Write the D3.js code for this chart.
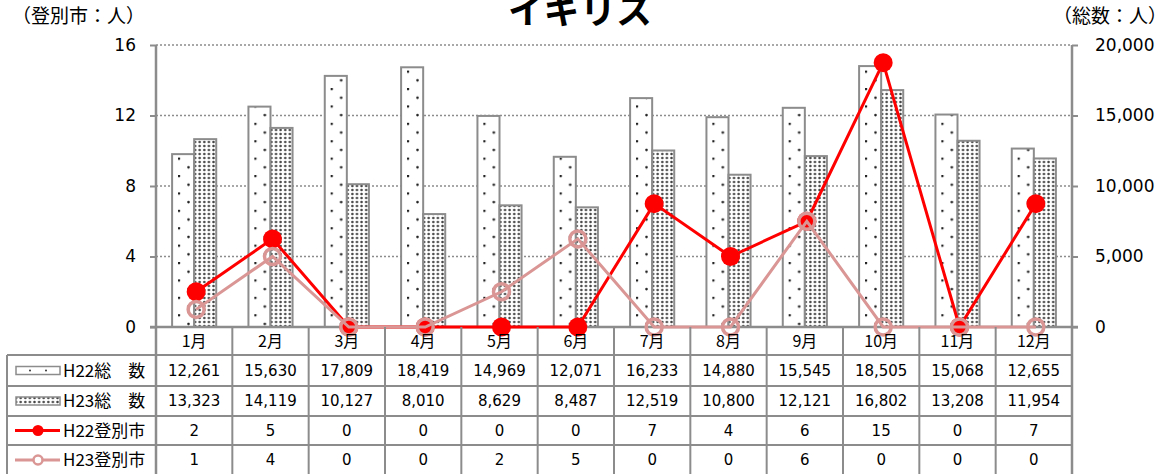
<!DOCTYPE html>
<html><head><meta charset="utf-8">
<script src="https://cdn.jsdelivr.net/npm/d3@7"></script>
<style>
body{margin:0;background:#fff;}
svg{display:block;}
text{font-family:"DejaVu Sans","Noto Sans CJK JP",sans-serif;fill:#000;}
.jp{font-family:"Noto Sans CJK JP","DejaVu Sans",sans-serif;}
</style></head>
<body><svg id="c" width="1172" height="474"></svg>
<script>
const months = ["1月","2月","3月","4月","5月","6月","7月","8月","9月","10月","11月","12月"];
const h22Total = [12261,15630,17809,18419,14969,12071,16233,14880,15545,18505,15068,12655];
const h23Total = [13323,14119,10127,8010,8629,8487,12519,10800,12121,16802,13208,11954];
const h22City = [2,5,0,0,0,0,7,4,6,15,0,7];
const h23City = [1,4,0,0,2,5,0,0,6,0,0,0];
const leftTicks = [0,4,8,12,16];
const rightTicks = [0,5000,10000,15000,20000];
const seriesNames = ["H22総　数","H23総　数","H22登別市","H23登別市"];
const title = "イギリス";

const svg = d3.select("#c");
const L = 156, R = 1072, T = 45, B = 327;
const gray = "#8c8c8c";
const red = "#ff0000", pink = "#d99694";

const x0 = d3.scaleBand().domain(months).range([L, R]);
const x1 = d3.scaleBand().domain(["H22","H23"]).range([0, x0.bandwidth()]).paddingOuter(0.73);
const yL = d3.scaleLinear().domain([0,16]).range([B, T]);
const yR = d3.scaleLinear().domain([0,20000]).range([B, T]);

// patterns
const defs = svg.append("defs");
const p1 = defs.append("pattern").attr("id","sparse").attr("patternUnits","userSpaceOnUse")
  .attr("width",19).attr("height",17.4).attr("x",3).attr("y",1);
p1.append("rect").attr("width",19).attr("height",17.4).attr("fill","#fff");
p1.append("circle").attr("cx",1).attr("cy",1).attr("r",1.3).attr("fill","#222");
p1.append("circle").attr("cx",10.5).attr("cy",9.7).attr("r",1.3).attr("fill","#222");
const p2 = defs.append("pattern").attr("id","dense").attr("patternUnits","userSpaceOnUse")
  .attr("width",4.6).attr("height",4).attr("x",0).attr("y",0);
p2.append("rect").attr("width",4.6).attr("height",4).attr("fill","#fff");
p2.append("circle").attr("cx",2.3).attr("cy",2).attr("r",1.25).attr("fill","#444");

// title and axis titles
svg.append("text").attr("class","jp").attr("x",580).attr("y",24).attr("text-anchor","middle")
  .style("font-size","36px").style("font-weight","bold").text(title);
svg.append("text").attr("class","jp").attr("x",12).attr("y",23).style("font-size","19px").text("（登別市：人）");
svg.append("text").attr("class","jp").attr("x",1053).attr("y",23).style("font-size","19px").text("（総数：人）");

// gridlines
svg.append("g").selectAll("line").data(leftTicks.filter(d=>d>0)).join("line")
  .attr("x1",L).attr("x2",R).attr("y1",d=>yL(d)).attr("y2",d=>yL(d))
  .attr("stroke",gray).attr("stroke-width",1.5).attr("stroke-dasharray","2,2");

// bars
const groups = svg.append("g").selectAll("g").data(months).join("g")
  .attr("transform",d=>`translate(${x0(d)},0)`);
groups.append("rect").attr("x",x1("H22")).attr("width",x1.bandwidth())
  .attr("y",(d,i)=>yR(h22Total[i])).attr("height",(d,i)=>B-yR(h22Total[i]))
  .attr("fill","url(#sparse)").attr("stroke",gray).attr("stroke-width",2);
groups.append("rect").attr("x",x1("H23")).attr("width",x1.bandwidth())
  .attr("y",(d,i)=>yR(h23Total[i])).attr("height",(d,i)=>B-yR(h23Total[i]))
  .attr("fill","url(#dense)").attr("stroke",gray).attr("stroke-width",2);

// axes
const axL = d3.axisLeft(yL).tickValues(leftTicks).tickSize(6).tickPadding(14);
const gL = svg.append("g").attr("transform",`translate(${L},0)`).call(axL);
const axR = d3.axisRight(yR).tickValues(rightTicks).tickSize(6).tickPadding(17).tickFormat(d3.format(","));
const gR = svg.append("g").attr("transform",`translate(${R},0)`).call(axR);
[gL,gR].forEach(g=>{
  g.selectAll(".tick line").attr("stroke",gray).attr("stroke-width",2);
  g.selectAll(".tick text").style("font-size","17px").attr("font-family",null);
});
gL.select(".domain").remove(); gR.select(".domain").remove();
svg.append("line").attr("x1",L).attr("x2",L).attr("y1",T).attr("y2",475).attr("stroke",gray).attr("stroke-width",2.5);
svg.append("line").attr("x1",R).attr("x2",R).attr("y1",T).attr("y2",475).attr("stroke",gray).attr("stroke-width",2.5);
svg.append("line").attr("x1",L-6).attr("x2",R+6).attr("y1",B).attr("y2",B).attr("stroke",gray).attr("stroke-width",2.5);

// lines
const cx = m => x0(m) + x0.bandwidth()/2 + 2;
const line = d3.line().x(d=>cx(d.m)).y(d=>yL(d.v));
const d22 = months.map((m,i)=>({m,v:h22City[i]}));
const d23 = months.map((m,i)=>({m,v:h23City[i]}));
svg.append("path").datum(d22).attr("d",line).attr("fill","none").attr("stroke",red).attr("stroke-width",3);
svg.append("g").selectAll("circle").data(d22).join("circle")
  .attr("cx",d=>cx(d.m)).attr("cy",d=>yL(d.v)).attr("r",9.5).attr("fill",red);
svg.append("path").datum(d23).attr("d",line).attr("fill","none").attr("stroke",pink).attr("stroke-width",3);
svg.append("g").selectAll("circle").data(d23).join("circle")
  .attr("cx",d=>cx(d.m)).attr("cy",d=>yL(d.v)).attr("r",8).attr("fill","none")
  .attr("stroke",pink).attr("stroke-width",3.5);

// table
const rowsY = [327,355,386,416,445,475];
const tbl = svg.append("g");
tbl.selectAll("line.h").data(rowsY.slice(1)).join("line")
  .attr("x1",7).attr("x2",R).attr("y1",d=>d).attr("y2",d=>d).attr("stroke",gray).attr("stroke-width",2);
tbl.append("line").attr("x1",7).attr("x2",7).attr("y1",355).attr("y2",475).attr("stroke",gray).attr("stroke-width",2);
tbl.selectAll("line.v").data(months.slice(1)).join("line")
  .attr("x1",d=>x0(d)).attr("x2",d=>x0(d)).attr("y1",B).attr("y2",475).attr("stroke",gray).attr("stroke-width",2);
tbl.selectAll("text.m").data(months).join("text").attr("class","jp")
  .attr("x",d=>x0(d)+x0.bandwidth()/2).attr("y",(rowsY[0]+rowsY[1])/2).attr("dy","0.36em")
  .attr("text-anchor","middle").style("font-size","16px").text(d=>d);
const rowsData = [h22Total.map(d3.format(",")), h23Total.map(d3.format(",")), h22City.map(String), h23City.map(String)];
rowsData.forEach((row,r)=>{
  const yc = (rowsY[r+1]+rowsY[r+2])/2;
  tbl.append("g").selectAll("text").data(row).join("text")
    .attr("x",(d,i)=>x0(months[i])+x0.bandwidth()/2).attr("y",yc).attr("dy","0.36em")
    .attr("text-anchor","middle").style("font-size","15px").text(d=>d);
  tbl.append("text").attr("class","jp").attr("x",63).attr("y",yc).attr("dy","0.36em")
    .style("font-size","17px").text(seriesNames[r]);
});
// legend keys
let yc0 = (rowsY[1]+rowsY[2])/2;
tbl.append("rect").attr("x",16).attr("y",yc0-4).attr("width",44).attr("height",8)
  .attr("fill","#fff").attr("stroke",gray).attr("stroke-width",1.5);
tbl.append("circle").attr("cx",30).attr("cy",yc0).attr("r",1).attr("fill","#333");
tbl.append("circle").attr("cx",46).attr("cy",yc0).attr("r",1).attr("fill","#333");
let yc1 = (rowsY[2]+rowsY[3])/2;
tbl.append("rect").attr("x",16).attr("y",yc1-4).attr("width",44).attr("height",8)
  .attr("fill","url(#dense)").attr("stroke",gray).attr("stroke-width",1.5);
let yc2 = (rowsY[3]+rowsY[4])/2;
tbl.append("line").attr("x1",15).attr("x2",60).attr("y1",yc2).attr("y2",yc2).attr("stroke",red).attr("stroke-width",3);
tbl.append("circle").attr("cx",38).attr("cy",yc2).attr("r",5.5).attr("fill",red);
let yc3 = (rowsY[4]+rowsY[5])/2;
tbl.append("line").attr("x1",15).attr("x2",60).attr("y1",yc3).attr("y2",yc3).attr("stroke",pink).attr("stroke-width",3);
tbl.append("circle").attr("cx",38).attr("cy",yc3).attr("r",4.5).attr("fill","#fff").attr("stroke",pink).attr("stroke-width",2.5);
</script></body></html>
